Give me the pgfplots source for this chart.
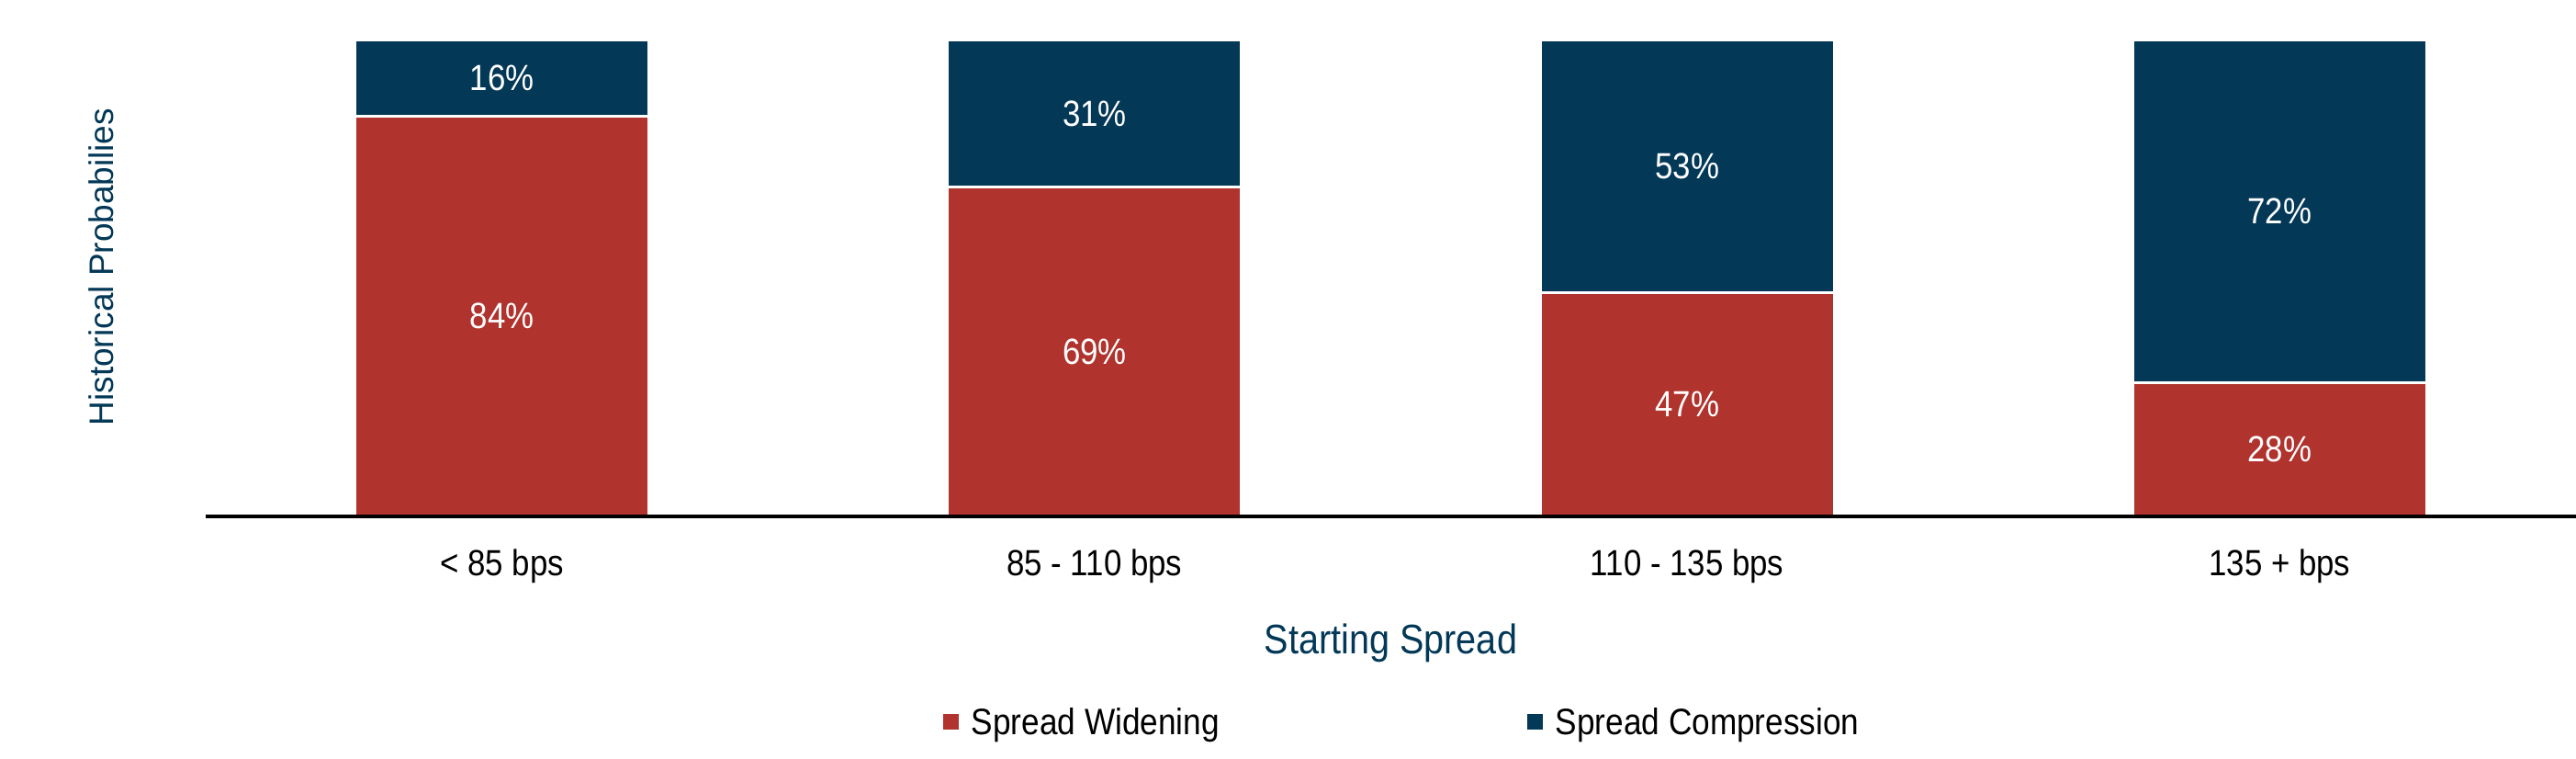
\documentclass[border=0pt]{standalone}
\usepackage{fontspec}
\setmainfont{Liberation Sans}[FakeStretch=0.88]
\newfontfamily\ylabfont{Liberation Sans}
\usepackage{pgfplots}
\pgfplotsset{compat=1.18}
\definecolor{wred}{RGB}{176,51,46}
\definecolor{cnavy}{RGB}{3,56,87}
\pgfplotsset{sq legend/.style={legend image code/.code={\fill[##1] (0pt,-2.5pt) rectangle (5pt,2.5pt);}}}
\begin{document}
\begin{tikzpicture}
\begin{axis}[
  at={(0,0)}, anchor=south west,
  scale only axis, width=645.25pt, height=129.75pt,
  axis on top,
  ybar stacked, bar width=80pt,
  xmin=-0.5, xmax=3.5, ymin=0, ymax=100,
  axis x line*=bottom, axis y line*=left,
  x axis line style={black, line width=1.1pt},
  y axis line style={draw=none},
  ytick=\empty,
  xtick={0,1,2,3},
  xticklabels={{< 85 bps},{85 - 110 bps},{110 - 135 bps},{135 + bps}},
  major tick length=0pt,
  xticklabel style={anchor=base, yshift=-16pt, font=\fontsize{9.9}{12}\selectfont, text=black},
  xlabel={Starting Spread},
  xlabel style={at={(axis description cs:0.5,-0.2871)}, anchor=base, font=\fontsize{11.25}{13}\selectfont, text=cnavy},
  ylabel={Historical Probabilies},
  ylabel style={at={(axis description cs:-0.0391,0.523)}, anchor=base, rotate=0, font=\ylabfont\fontsize{9.25}{11}\selectfont, text=cnavy},
  legend style={at={(axis description cs:0.3096,-0.4297)}, anchor=west, draw=none, fill=none,
    inner sep=0pt, nodes={inner sep=0pt, text depth=0pt},
    font=\fontsize{10}{12}\selectfont,
    /tikz/every odd column/.append style={column sep=2.75pt}},
  legend columns=2,
  legend cell align=left,
]
\addplot[fill=wred, draw=white, line width=0.75pt, sq legend] coordinates {(0,84) (1,69) (2,47) (3,28)};
\addlegendentry{\makebox[150.5pt][l]{Spread Widening}}
\addplot[fill=cnavy, draw=white, line width=0.75pt, sq legend] coordinates {(0,16) (1,31) (2,53) (3,72)};
\addlegendentry{Spread Compression}
\end{axis}
\begin{axis}[
  at={(0,0)}, anchor=south west,
  scale only axis, width=645.25pt, height=129.75pt,
  xmin=-0.5, xmax=3.5, ymin=0, ymax=100,
  hide axis, clip=false,
]
\addplot[only marks, mark=none, point meta=explicit symbolic,
  nodes near coords,
  every node near coord/.style={anchor=center, text=white, font=\fontsize{9.9}{12}\selectfont}]
  coordinates {(0,42) [84\%] (1,34.5) [69\%] (2,23.5) [47\%] (3,14) [28\%]
               (0,92) [16\%] (1,84.5) [31\%] (2,73.5) [53\%] (3,64) [72\%]};
\end{axis}
\pgfresetboundingbox
\useasboundingbox (-56pt,-65.75pt) rectangle (645.25pt,140.5pt);
\end{tikzpicture}
\end{document}
